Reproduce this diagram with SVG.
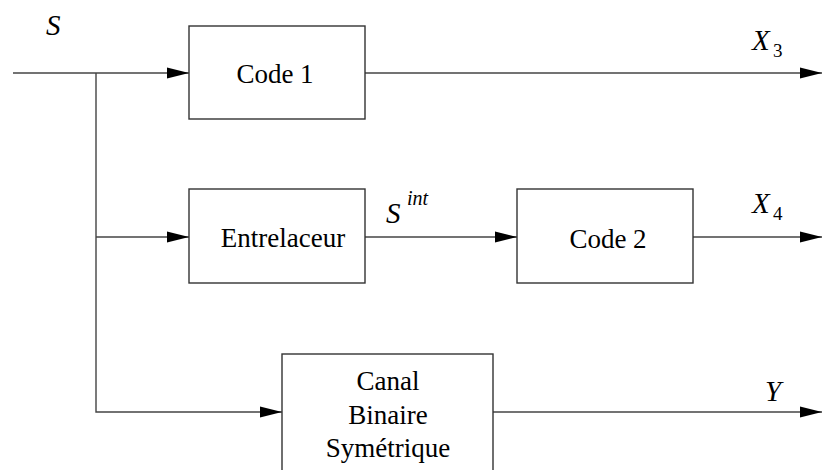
<svg xmlns="http://www.w3.org/2000/svg" width="824" height="470" viewBox="0 0 824 470">
<defs>
<marker id="ah" markerUnits="userSpaceOnUse" markerWidth="22" markerHeight="12" refX="22" refY="6" orient="auto">
<path d="M0,0.5 L22,6 L0,11.5 Z" fill="#000"/>
</marker>
<style>
.box{fill:#fff;stroke:#333;stroke-width:1.4}
.ln{fill:none;stroke:#444;stroke-width:1.4}
text{font-family:'Liberation Serif',Tinos,'Times New Roman',Times,'Noto Serif','DejaVu Serif',serif}
.t{font-size:27px;fill:#000;text-anchor:middle}
.m{font-style:italic;font-size:29px;fill:#000}
.s{font-size:19px;fill:#000}
.si{font-style:italic;font-size:20px;fill:#000}
</style>
</defs>
<rect width="824" height="470" fill="#fff"/>
<g id="connectors">
<path class="ln" d="M13,73 H189" marker-end="url(#ah)"/>
<path class="ln" d="M365,73 H822" marker-end="url(#ah)"/>
<path class="ln" d="M96,73 V412 H282" marker-end="url(#ah)"/>
<path class="ln" d="M96,237 H189" marker-end="url(#ah)"/>
<path class="ln" d="M365,237 H517" marker-end="url(#ah)"/>
<path class="ln" d="M693,237 H822" marker-end="url(#ah)"/>
<path class="ln" d="M493,412 H822" marker-end="url(#ah)"/>
</g>
<g id="code1">
<rect class="box" x="189" y="26" width="176" height="93"/>
<text class="t" x="275" y="83">Code 1</text>
</g>
<g id="entrelaceur">
<rect class="box" x="189" y="189" width="176" height="94"/>
<text class="t" x="283" y="247">Entrelaceur</text>
</g>
<g id="code2">
<rect class="box" x="517" y="189" width="176" height="94"/>
<text class="t" x="608" y="248">Code 2</text>
</g>
<g id="canal">
<rect class="box" x="282" y="354" width="211" height="130"/>
<text class="t" x="388" y="390">Canal</text>
<text class="t" x="388" y="424">Binaire</text>
<text class="t" x="388" y="457">Symétrique</text>
</g>
<g id="labels">
<text class="m" x="46" y="35">S</text>
<text class="m" x="752" y="50">X</text><text class="s" x="773" y="57">3</text>
<text class="m" x="752" y="213">X</text><text class="s" x="773" y="220">4</text>
<text class="m" x="386" y="223">S</text><text class="si" x="407" y="205">int</text>
<text class="m" x="765" y="401">Y</text>
</g>
</svg>
